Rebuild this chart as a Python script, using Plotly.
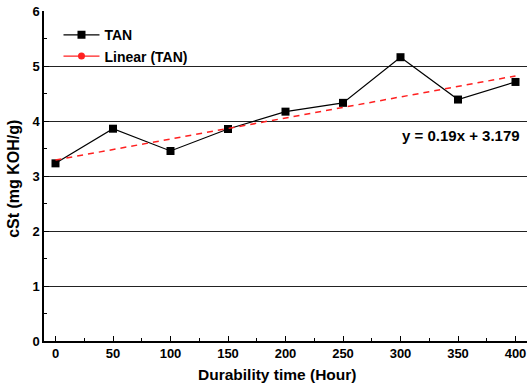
import plotly.graph_objects as go

hours = [0, 50, 100, 150, 200, 250, 300, 350, 400]
tan_values = [3.23, 3.86, 3.455, 3.855, 4.17, 4.33, 5.16, 4.39, 4.71]
trend_hours = [0, 400]
trend_values = [3.29, 4.82]
x_ticks = [0, 50, 100, 150, 200, 250, 300, 350, 400]
y_ticks = [0, 1, 2, 3, 4, 5, 6]
equation_text = "y = 0.19x + 3.179"
x_title = "Durability time (Hour)"
y_title = "cSt (mg KOH/g)"

FONT = "Liberation Sans, Arial, sans-serif"
RED = "#ff2020"

fig = go.Figure()
fig.add_trace(go.Scatter(
    x=hours, y=tan_values, name="TAN", mode="lines+markers",
    line=dict(color="black", width=1.2),
    marker=dict(symbol="square", size=8, color="black"),
))
fig.add_trace(go.Scatter(
    x=trend_hours, y=trend_values, name="Linear (TAN)", mode="lines",
    line=dict(color=RED, width=1.5, dash="6px,5px"), showlegend=False,
))
# legend entry for the fit: solid red line with a round marker
fig.add_trace(go.Scatter(
    x=[None], y=[None], name="Linear (TAN)", mode="lines+markers",
    line=dict(color=RED, width=1.2),
    marker=dict(symbol="circle", size=7, color=RED),
))

fig.add_annotation(
    x=406, xref="x", y=3.74, yref="y", xanchor="right", yanchor="middle",
    text=equation_text, showarrow=False,
    font=dict(family=FONT, size=15, color="black", weight="bold"),
)
fig.add_annotation(
    x=0.482, xref="paper", y=-0.103, yref="paper", xanchor="center", yanchor="middle",
    text=x_title, showarrow=False,
    font=dict(family=FONT, size=15.5, color="black", weight="bold"),
)
fig.add_annotation(
    x=-0.063, xref="paper", y=0.49, yref="paper", xanchor="center", yanchor="middle",
    text=y_title, showarrow=False, textangle=-90,
    font=dict(family=FONT, size=16, color="black", weight="bold"),
)

fig.update_layout(
    width=528, height=387,
    margin=dict(l=44, r=1, t=11, b=46),
    paper_bgcolor="white", plot_bgcolor="white",
    font=dict(family=FONT, color="black", weight="bold"),
    showlegend=True,
    legend=dict(
        x=0.03, y=0.975, xanchor="left", yanchor="top",
        bgcolor="rgba(0,0,0,0)", font=dict(family=FONT, size=14, weight="bold"),
        itemwidth=36, tracegroupgap=0,
    ),
    xaxis=dict(
        range=[-10, 410], tickvals=x_ticks, showgrid=False, zeroline=False,
        showline=True, linecolor="black", linewidth=1.5,
        ticks="inside", ticklen=5, tickwidth=1.2, tickcolor="black",
        minor=dict(dtick=25, ticks="inside", ticklen=3, tickcolor="black", tickwidth=1),
        tickfont=dict(family=FONT, size=13, weight="bold"),
    ),
    yaxis=dict(
        range=[0, 6], tickvals=y_ticks, showgrid=True, gridcolor="#222", gridwidth=1,
        zeroline=False, showline=True, linecolor="black", linewidth=1.5,
        ticks="inside", ticklen=5, tickwidth=1.2, tickcolor="black",
        minor=dict(dtick=0.5, ticks="inside", ticklen=3, tickcolor="black", tickwidth=1, showgrid=False),
        tickfont=dict(family=FONT, size=13, weight="bold"),
    ),
)
fig.write_html("out.html")
